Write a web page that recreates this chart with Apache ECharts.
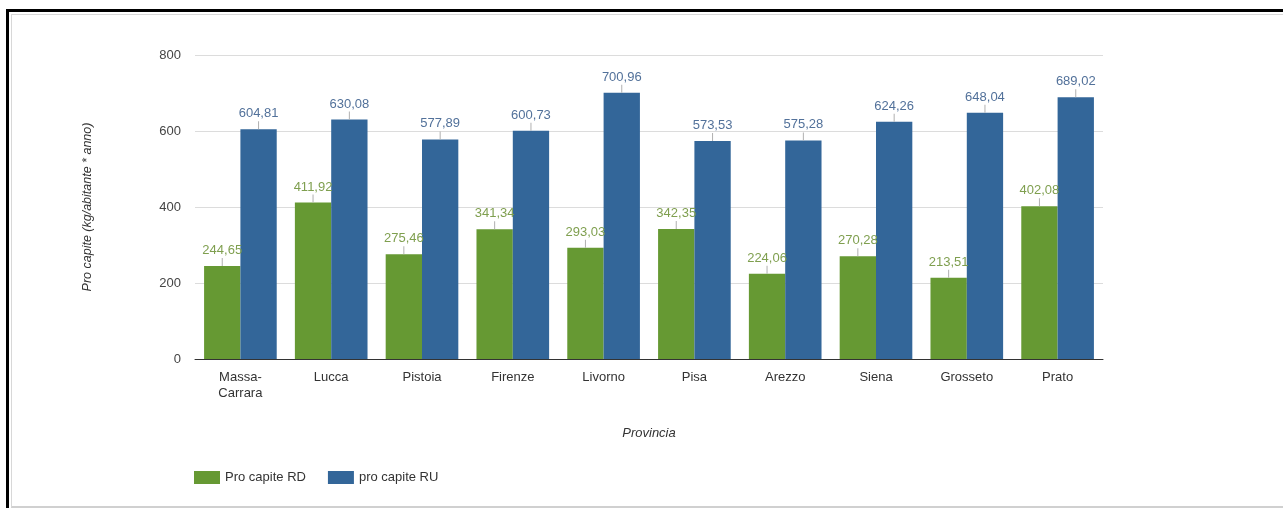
<!DOCTYPE html>
<html><head><meta charset="utf-8">
<script src="https://cdn.jsdelivr.net/npm/echarts@6/dist/echarts.min.js"></script>
<style>
html,body{margin:0;padding:0;background:#fff;overflow:hidden;}
#outer{position:absolute;left:6px;top:9px;width:1277px;height:499px;border-left:3px solid #000;border-top:3px solid #000;box-sizing:border-box;}
#inner{position:absolute;left:2px;top:2px;right:0;bottom:0;border-left:1px solid #d8d8d8;border-top:1px solid #d8d8d8;border-bottom:2px solid #d0d0d0;box-sizing:border-box;}
#chart{position:absolute;left:0;top:0;width:1283px;height:508px;}
</style></head>
<body>
<div id="outer"><div id="inner"></div></div>
<div id="chart"></div>
<script>
const categories = ['Massa-\nCarrara','Lucca','Pistoia','Firenze','Livorno','Pisa','Arezzo','Siena','Grosseto','Prato'];
const rdValues = [244.65,411.92,275.46,341.34,293.03,342.35,224.06,270.28,213.51,402.08];
const ruValues = [604.81,630.08,577.89,600.73,700.96,573.53,575.28,624.26,648.04,689.02];
const yTicks = [0,200,400,600,800];
const seriesNames = ['Pro capite RD','pro capite RU'];

const fmt = v => v.toFixed(2).replace('.', ',');
function lbl(color){
  return {
    show:true, position:'top', distance:0,
    formatter: p => '{v|' + fmt(p.value) + '}\n{t|}',
    rich:{
      v:{color:color,fontSize:13,fontFamily:'Liberation Sans',lineHeight:15,align:'center'},
      t:{width:1,height:8,backgroundColor:'#b0b0b0',align:'center'}
    }
  };
}
const chart = echarts.init(document.getElementById('chart'));
chart.setOption({
  animation:false,
  textStyle:{fontFamily:'Liberation Sans'},
  grid:{left:195,right:180,top:55,bottom:149,containLabel:false},
  legend:{
    left:189, top:466, itemWidth:26, itemHeight:13, itemGap:22,
    icon:'rect',
    textStyle:{color:'#333',fontSize:13,fontFamily:'Liberation Sans'},
    data:seriesNames
  },
  xAxis:{
    type:'category', data:categories,
    name:'Provincia', nameLocation:'middle', nameGap:68,
    nameTextStyle:{fontStyle:'italic',color:'#333',fontSize:13},
    axisLine:{lineStyle:{color:'#333',width:1}},
    axisTick:{show:false},
    axisLabel:{color:'#333',fontSize:13,margin:10,lineHeight:16,interval:0}
  },
  yAxis:{
    type:'value', min:yTicks[0], max:yTicks[yTicks.length-1], interval:200,
    name:'Pro capite (kg/abitante * anno)', nameLocation:'middle', nameGap:101,
    nameTextStyle:{fontStyle:'italic',color:'#333',fontSize:12.5},
    axisLine:{show:false}, axisTick:{show:false},
    axisLabel:{color:'#444',fontSize:13,margin:14},
    splitLine:{lineStyle:{color:'#dcdcdc'}}
  },
  series:[
    {name:seriesNames[0],type:'bar',data:rdValues,barGap:'0%',barCategoryGap:'20%',
     itemStyle:{color:'#669933'},label:lbl('#7f9f4f')},
    {name:seriesNames[1],type:'bar',data:ruValues,
     itemStyle:{color:'#336699'},label:lbl('#52719a')}
  ]
});
</script>
</body></html>
